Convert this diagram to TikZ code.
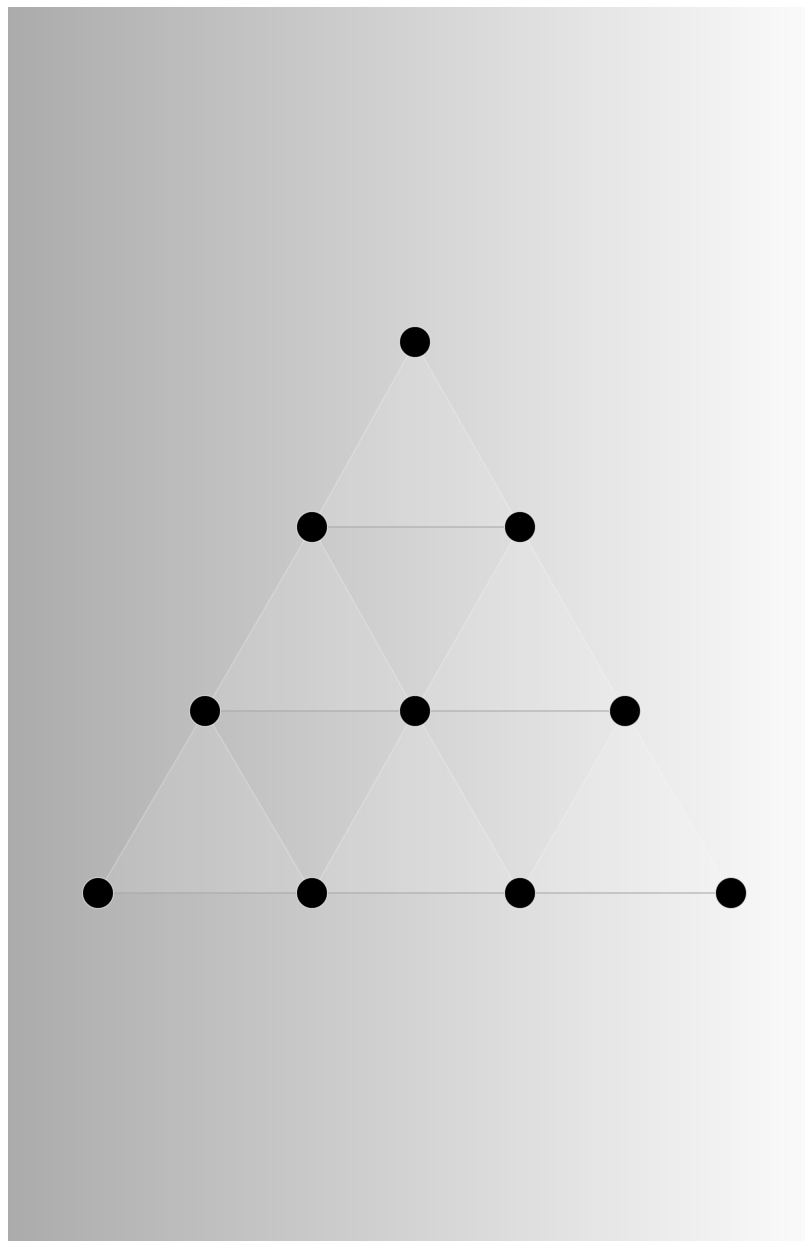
\documentclass[tikz,border=0pt]{standalone}
\usepackage{tikz}
\usetikzlibrary{positioning,backgrounds}
\definecolor{PanelLeft}{HTML}{ABABAB}
\definecolor{PanelRight}{HTML}{FAFAFA}
\definecolor{EdgeInk}{HTML}{9A9A9A}

\begin{document}
\begin{tikzpicture}[
 x=0.02cm,y=-0.02cm,
 dot/.style={circle,fill=black,draw=white,draw opacity=.6,line width=.6pt,
   minimum size=0.62cm,inner sep=0pt},
 facet/.style={fill=white,fill opacity=.12,draw=white,draw opacity=.2,line width=.8pt},
 rung/.style={draw=EdgeInk,draw opacity=.45,line width=.6pt}
]
 \useasboundingbox (0,0) rectangle (805,1245);
 % dots, row by row
 \node[dot] (a1) at (415,342) {};
 \node[dot] (b1) at (312,527) {};
 \node[dot] (b2) at (520,527) {};
 \node[dot] (c1) at (205,711) {};
 \node[dot] (c2) at (415,711) {};
 \node[dot] (c3) at (625,711) {};
 \node[dot] (d1) at (98,893) {};
 \node[dot] (d2) at (312,893) {};
 \node[dot] (d3) at (520,893) {};
 \node[dot] (d4) at (731,893) {};
 \begin{scope}[on background layer]
  \fill[white] (0,0) rectangle (805,1245);
  \shade[left color=PanelLeft,right color=PanelRight] (8,7) rectangle (805,1240);
  \foreach \u/\l/\r in {a1/b1/b2,b1/c1/c2,b2/c2/c3,c1/d1/d2,c2/d2/d3,c3/d3/d4}
   \draw[facet] (\u.center)--(\l.center)--(\r.center)--cycle;
  \draw[rung] (b1)--(b2);
  \draw[rung] (c1)--(c2);
  \draw[rung] (c2)--(c3);
  \draw[rung] (d1)--(d2);
  \draw[rung] (d2)--(d3);
  \draw[rung] (d3)--(d4);
 \end{scope}
\end{tikzpicture}
\end{document}
